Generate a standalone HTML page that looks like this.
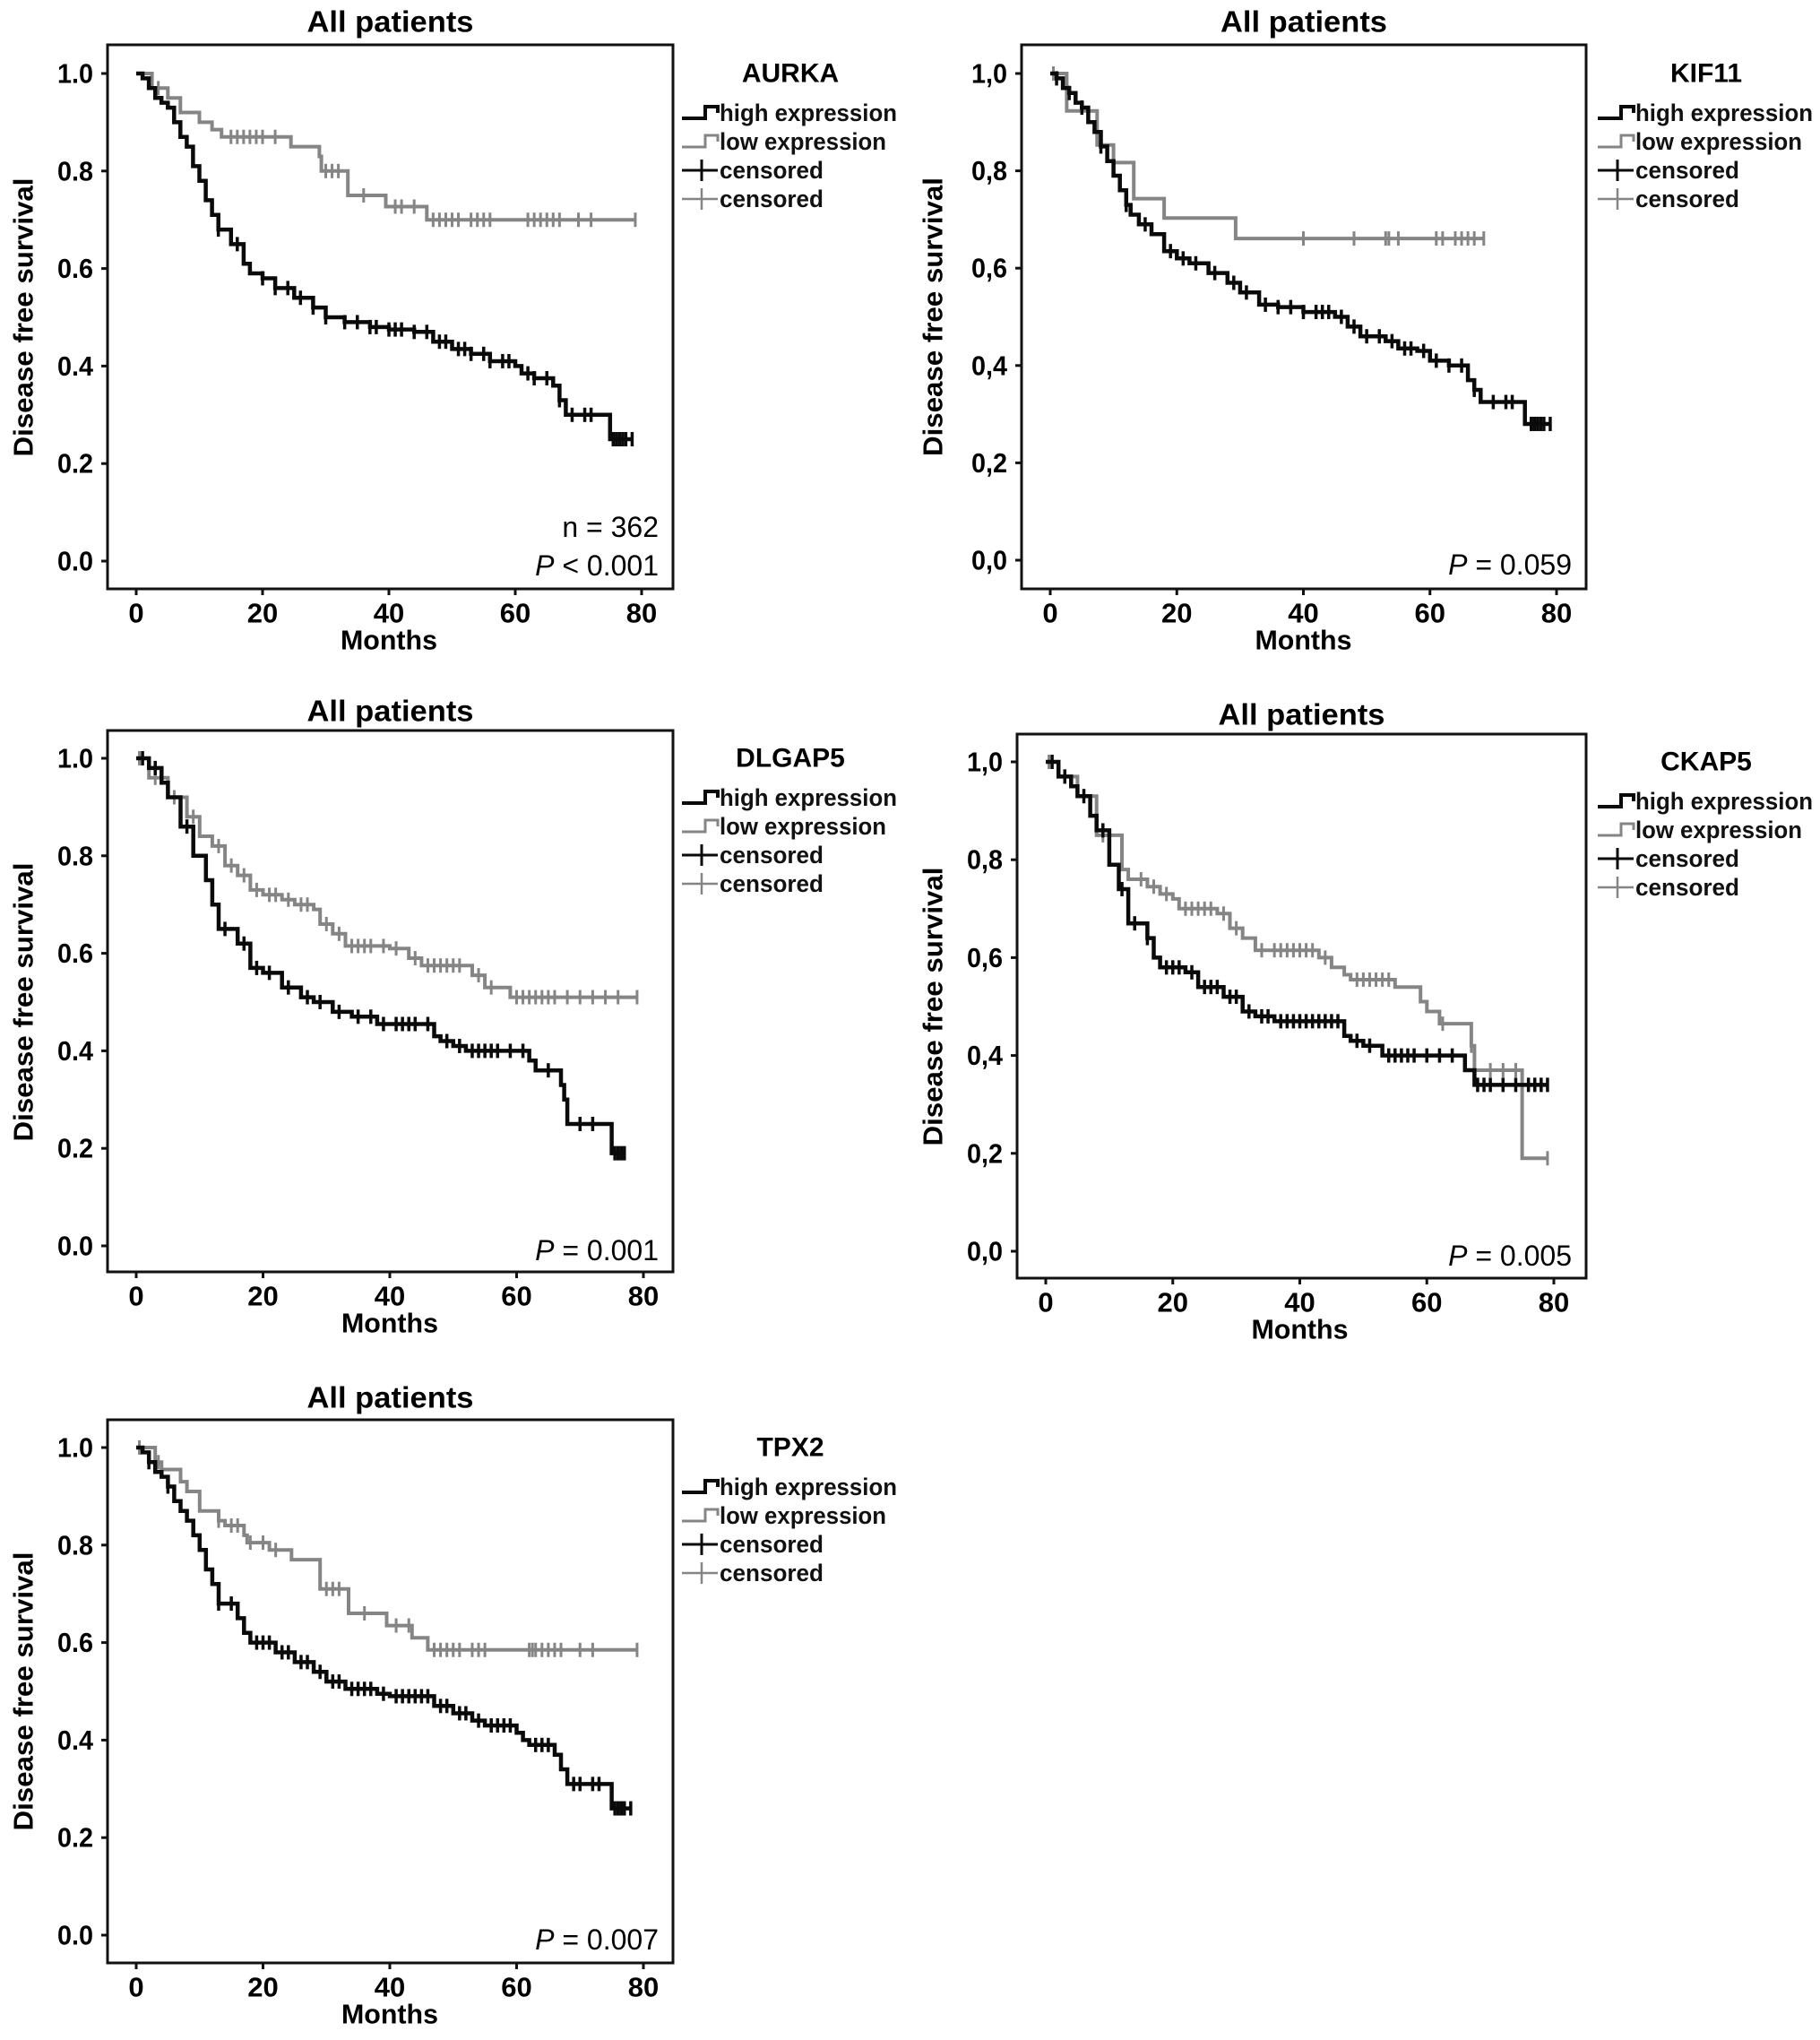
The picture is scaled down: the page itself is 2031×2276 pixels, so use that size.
<!DOCTYPE html>
<html><head><meta charset="utf-8">
<style>
html,body{margin:0;padding:0;background:#fff;}
svg{display:block;}
text{font-family:"Liberation Sans",Arial,sans-serif;}
</style></head>
<body>
<svg id="fig" width="2031" height="2276" viewBox="0 0 2031 2276" xmlns="http://www.w3.org/2000/svg"></svg>
<script>
// ---------- DATA (time in months, survival probability) ----------
const yTicks = [0, 0.2, 0.4, 0.6, 0.8, 1.0];
const xTicks = [0, 20, 40, 60, 80];
const legendLabels = ["high expression", "low expression", "censored", "censored"];
const geneNames = ["AURKA", "KIF11", "DLGAP5", "CKAP5", "TPX2"];
const pLabels = ["< 0.001", "= 0.059", "= 0.001", "= 0.005", "= 0.007"];

// AURKA
const aurkaHighT = [1,2,3,4,5,6,7,8,9,10,11,12,13,15,17,18,20,22,25,28,30,33,37,40,44,47,50,53,56,60,61,63,66,67,68,75];
const aurkaHighS = [0.99,0.97,0.95,0.94,0.93,0.90,0.87,0.85,0.81,0.78,0.74,0.71,0.68,0.65,0.61,0.59,0.58,0.56,0.54,0.52,0.50,0.49,0.48,0.475,0.47,0.45,0.435,0.425,0.41,0.40,0.385,0.375,0.36,0.33,0.30,0.25];
const aurkaHighC = [13,16,20,22,24,26,28,30,33,35,37,38,40,41,42,44,46,48,49,51,52,53,55,56,58,59,62,63,65,67,69,71,72,75.5,76,76.5,77,77.5,78.5];
const aurkaLowT = [2.5,5,7,10,12,13.5,24.5,29,29.3,33.5,39.5,46];
const aurkaLowS = [0.97,0.95,0.92,0.90,0.885,0.87,0.85,0.83,0.80,0.75,0.727,0.70];
const aurkaLowC = [3.5,15,16,17,18,19,20,22,30,31,32,36,41,42,44,47,48,49,50,51,53,54,55,56,62,63,64,65,66,67,70,72,79];

// KIF11
const kifHighT = [1,2,3,4,5,6,7,8,9,10,11,12,12.7,14,16,18,20,22,25,28,30,33,36,40,45,47,49,53,55,58,60,63,66,67,68,75];
const kifHighS = [0.99,0.97,0.96,0.94,0.93,0.90,0.88,0.85,0.82,0.79,0.76,0.73,0.71,0.69,0.67,0.635,0.62,0.61,0.59,0.57,0.55,0.525,0.52,0.51,0.50,0.48,0.46,0.45,0.435,0.43,0.41,0.40,0.37,0.35,0.325,0.28];
const kifHighC = [1,3,5,8,12,15,19,21,23,26,29,31,34,36,38,40,42,43,44,46,48,50,52,54,56,57,59,61,63,65,67,70,72,73,76,76.5,77,77.5,78,79];
const kifLowT = [2.6,7.4,10,13.2,18,29.3];
const kifLowS = [0.923,0.853,0.817,0.743,0.703,0.661];
const kifLowC = [0.5,40,48,53,53.5,55,61,62,64,65,66,67,68.5];

// DLGAP5
const dlgHighT = [2,4,5,7,9,11,12,13,16,18,20,23,26,28,31,34,38,47,48,50,52,62,63,67,67.5,68,75];
const dlgHighS = [0.98,0.95,0.92,0.86,0.80,0.75,0.70,0.65,0.62,0.57,0.56,0.53,0.51,0.50,0.48,0.47,0.455,0.43,0.42,0.41,0.40,0.38,0.36,0.33,0.30,0.25,0.19];
const dlgHighC = [1,3,8,14,17,19,21,24,27,29,32,35,37,39,41,42,43,44,46,49,51,53,54,55,56,57,59,61,65,70,72,75.5,76,76.5,77];
const dlgLowT = [2,5,8,10,12,14,16,18,20,23,25,28,29,31,33,40,43,45,53,55,59];
const dlgLowS = [0.96,0.92,0.88,0.84,0.82,0.78,0.76,0.73,0.72,0.71,0.70,0.69,0.66,0.64,0.615,0.61,0.59,0.575,0.555,0.53,0.51];
const dlgLowC = [0.5,1,3,4,6,9,13,15,17,19,21,22,24,26,27,30,32,34,35,36,37,39,41,44,46,47,48,49,50,51,54,56,60,61,62,63,64,65,66,68,70,72,74,76,79];

// CKAP5
const ckHighT = [2,4,5,7,8,10,11.5,13,16,17,18,22,24,28,31,33,36,47,48,50,53,66,67.5];
const ckHighS = [0.97,0.95,0.93,0.89,0.86,0.79,0.74,0.67,0.64,0.60,0.58,0.57,0.54,0.52,0.49,0.48,0.47,0.44,0.43,0.42,0.40,0.37,0.34];
const ckHighC = [1,3,6,9,12,14,16,19,20,21,23,25,26,27,29,30,32,34,35,37,38,39,40,41,42,43,44,45,46,49,51,54,55,56,57,58,60,62,64,68,69,70,72,74,76,77,78,79];
const ckLowT = [2,5,8,12,13,16,18,20,21,27,29,31,33,43,45,47,48,55,59,60,62,67,67.5,75];
const ckLowS = [0.97,0.93,0.85,0.78,0.76,0.745,0.73,0.72,0.70,0.69,0.66,0.64,0.615,0.60,0.58,0.565,0.555,0.54,0.51,0.49,0.465,0.42,0.37,0.19];
const ckLowC = [0.5,1,3,6,9,15,17,19,22,23,24,25,26,28,30,34,36,37,38,39,40,41,42,44,49,50,51,52,53,54,62.5,67,70,72,74,79];

// TPX2
const tpxHighT = [1,2,3,4,5,6,7,8,9,10,11,12,13,16,17,18,22,25,28,30,33,38,40,47,50,53,55,60,61,62,66,67,68,75];
const tpxHighS = [0.99,0.97,0.95,0.94,0.92,0.89,0.87,0.85,0.82,0.79,0.75,0.72,0.68,0.65,0.62,0.60,0.58,0.56,0.54,0.52,0.505,0.495,0.49,0.47,0.455,0.44,0.43,0.415,0.40,0.39,0.37,0.34,0.31,0.26];
const tpxHighC = [2,5,13,15,19,20,21,23,24,26,27,29,31,32,34,35,36,37,39,41,42,43,44,45,46,48,49,51,52,54,56,57,58,59,63,64,65,69,70,72,73,75.5,76,76.5,77,78];
const tpxLowT = [3,4,7,8,10,13,14,17,17.5,21,24.5,29,33.5,39.5,43.5,46];
const tpxLowS = [0.97,0.955,0.93,0.91,0.87,0.85,0.84,0.82,0.805,0.79,0.77,0.71,0.66,0.635,0.61,0.585];
const tpxLowC = [0.5,3.5,13,15,16,18,20,22,30,31,32,36,41,43,47,48,49,50,51,53,54,55,62,62.5,63,64,65,66,67,70,72,79];

// ---------- LAYOUT ----------
const panels = [
  {L:120,R:751,T:50,B:657,x0:152,x80:716,y1:82,y0:626,titleY:24,ytX:26,legX:761,comma:false,n:true,
   hiT:aurkaHighT,hiS:aurkaHighS,hiC:aurkaHighC,loT:aurkaLowT,loS:aurkaLowS,loC:aurkaLowC},
  {L:1140,R:1770,T:50,B:657,x0:1172,x80:1737,y1:82,y0:625,titleY:24,ytX:1041,legX:1783,comma:true,n:false,
   hiT:kifHighT,hiS:kifHighS,hiC:kifHighC,loT:kifLowT,loS:kifLowS,loC:kifLowC},
  {L:120,R:751,T:815,B:1419,x0:152,x80:718,y1:846,y0:1390,titleY:793,ytX:26,legX:761,comma:false,n:false,
   hiT:dlgHighT,hiS:dlgHighS,hiC:dlgHighC,loT:dlgLowT,loS:dlgLowS,loC:dlgLowC},
  {L:1135,R:1770,T:819,B:1426,x0:1167,x80:1734,y1:850,y0:1396,titleY:797,ytX:1041,legX:1783,comma:true,n:false,
   hiT:ckHighT,hiS:ckHighS,hiC:ckHighC,loT:ckLowT,loS:ckLowS,loC:ckLowC},
  {L:120,R:751,T:1584,B:2190,x0:152,x80:718,y1:1615,y0:2159,titleY:1559,ytX:26,legX:761,comma:false,n:false,
   hiT:tpxHighT,hiS:tpxHighS,hiC:tpxHighC,loT:tpxLowT,loS:tpxLowS,loC:tpxLowC}
];

const NS = "http://www.w3.org/2000/svg";
const svg = document.getElementById("fig");
function mk(tag, attrs, parent){
  const e = document.createElementNS(NS, tag);
  for (const k in attrs) e.setAttribute(k, attrs[k]);
  (parent||svg).appendChild(e);
  return e;
}
function txt(str, attrs, parent){ const t = mk("text", attrs, parent); t.textContent = str; return t; }
function survAt(T, S, t){ let s = 1; for (let i=0;i<T.length;i++){ if (T[i] <= t) s = S[i]; } return s; }

panels.forEach((p, idx) => {
  const g = mk("g", {});
  
  
  const X = t => p.x0 + (p.x80 - p.x0) * t / 80;
  const Y = s => p.y0 - (p.y0 - p.y1) * s;

  const title = txt("All patients", {x:(p.L+p.R)/2, y:p.titleY, "text-anchor":"middle", "dominant-baseline":"central", "font-size":33, "font-weight":"bold", textLength:186, lengthAdjust:"spacingAndGlyphs"}, g);
  
  

  const box = mk("rect", {x:p.L, y:p.T, width:p.R-p.L, height:p.B-p.T, fill:"none", stroke:"#111", "stroke-width":3}, g);
  
  

  yTicks.forEach(v => {
    const tk = mk("line", {x1:p.L-7, x2:p.L, y1:Y(v), y2:Y(v), stroke:"#111", "stroke-width":3}, g);
    
    
    let lab = v.toFixed(1); if (p.comma) lab = lab.replace(".", ",");
    const tl = txt(lab, {x:p.L-16, y:Y(v), "text-anchor":"end", "dominant-baseline":"central", "font-size":31, "font-weight":"bold", textLength:40, lengthAdjust:"spacingAndGlyphs"}, g);
    
    
  });
  xTicks.forEach(v => {
    const tk = mk("line", {x1:X(v), x2:X(v), y1:p.B, y2:p.B+7, stroke:"#111", "stroke-width":3}, g);
    
    
    const tl = txt(String(v), {x:X(v), y:p.B+27, "text-anchor":"middle", "dominant-baseline":"central", "font-size":31, "font-weight":"bold"}, g);
    
    
  });
  const xt = txt("Months", {x:(p.x0+p.x80)/2, y:p.B+57, "text-anchor":"middle", "dominant-baseline":"central", "font-size":31, "font-weight":"bold", textLength:108, lengthAdjust:"spacingAndGlyphs"}, g);
  
  
  const cy = (p.y0+p.y1)/2;
  const yt = txt("Disease free survival", {x:p.ytX, y:cy, transform:`rotate(-90 ${p.ytX} ${cy})`, "text-anchor":"middle", "dominant-baseline":"central", "font-size":31, "font-weight":"bold", textLength:311, lengthAdjust:"spacingAndGlyphs"}, g);
  
  

  function curve(T, S, C, color, w, name){
    const endT = Math.max(C.length ? Math.max(...C) : 0, T[T.length-1]);
    let d = `M${X(0)},${Y(1)}`;
    for (let i=0;i<T.length;i++){ d += ` H${X(T[i]).toFixed(1)} V${Y(S[i]).toFixed(1)}`; }
    d += ` H${X(endT).toFixed(1)}`;
    const path = mk("path", {d:d, fill:"none", stroke:color, "stroke-width":w, "stroke-linejoin":"miter"}, g);
    
    
    C.forEach(t => {
      const yy = Y(survAt(T, S, t));
      const m = mk("line", {x1:X(t), x2:X(t), y1:yy-8, y2:yy+8, stroke:color, "stroke-width":w-1}, g);
      
      
    });
  }
  curve(p.loT, p.loS, p.loC, "#858585", 4, "low-expression");
  curve(p.hiT, p.hiS, p.hiC, "#0a0a0a", 4.5, "high-expression");

  const ax = p.R - 16;
  if (p.n){
    const nt = txt("n = 362", {x:ax, y:p.y0-38, "text-anchor":"end", "dominant-baseline":"central", "font-size":32}, g);
    
    
  }
  const pt = txt("", {x:ax, y:p.y0+5, "text-anchor":"end", "dominant-baseline":"central", "font-size":32}, g);
  
  
  const ps = mk("tspan", {"font-style":"italic"}, pt); ps.textContent = "P";
  const ps2 = mk("tspan", {}, pt); ps2.textContent = " " + pLabels[idx];

  const lg = mk("g", {}, g);
  
  
  const lt = txt(geneNames[idx], {x:p.legX+121, y:p.y1, "text-anchor":"middle", "dominant-baseline":"central", "font-size":30, "font-weight":"bold"}, lg);
  
  
  const offs = [44, 76, 108, 140];
  const cols = ["#0a0a0a", "#858585", "#0a0a0a", "#858585"];
  legendLabels.forEach((lab, i) => {
    const yy = p.y1 + offs[i];
    const x1 = p.legX, x2 = p.legX + 40;
    let sym;
    if (i < 2) sym = mk("path", {d:`M${x1},${yy+6} H${x1+26} V${yy-7} H${x2} V${yy}`, fill:"none", stroke:cols[i], "stroke-width":i==0?4:3}, lg);
    else sym = mk("path", {d:`M${x1},${yy} H${x2} M${x1+22},${yy-12} V${yy+12}`, fill:"none", stroke:cols[i], "stroke-width":i==2?3:2.5}, lg);
    
    
    const tl = txt(lab, {x:p.legX+42, y:yy, "dominant-baseline":"central", "font-size":27, "font-weight":"bold", fill:"#111", textLength:i==0?198:(i==1?186:(i==2?116:116)), lengthAdjust:"spacingAndGlyphs"}, lg);
    
    
  });
});
</script>
</body></html>
